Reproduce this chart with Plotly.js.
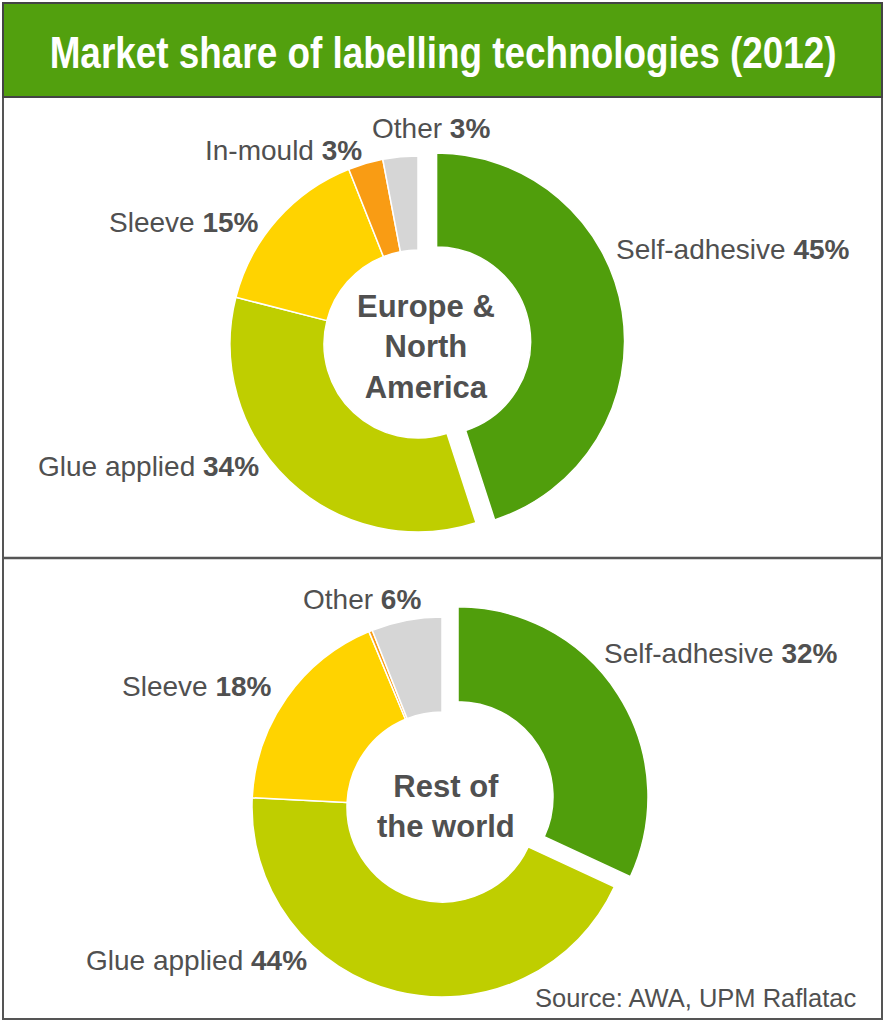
<!DOCTYPE html>
<html>
<head>
<meta charset="utf-8">
<script src="https://cdn.plot.ly/plotly-3.0.1.min.js"></script>
<style>html,body{margin:0;padding:0;background:#fff;}#chart{width:884px;height:1021px;}</style>
</head>
<body>
<div id="chart"></div>
<script>
// ---- data ----
const categories = ["Self-adhesive", "Glue applied", "Sleeve", "In-mould", "Other"];
const europeNA = [45, 34, 15, 3, 3];
const restOfWorld = [32, 44, 18, 0.3, 6];
const europeNALabels = ["45%", "34%", "15%", "3%", "3%"];
const restOfWorldLabels = ["32%", "44%", "18%", "", "6%"];
const chartTitle = "Market share of labelling technologies (2012)";
const centerTop = "Europe &<br>North<br>America";
const centerBottom = "Rest of<br>the world";
const source = "Source: AWA, UPM Raflatac";

// ---- style ----
const W = 884, H = 1021;
const colors = ["#509e0c", "#bfce00", "#ffd300", "#f99c14", "#d6d6d6"];
const px = x => x / W;
const py = y => 1 - y / H;
const FONT = "Liberation Sans";
const labelColor = "#505050";

function pie(values, cx, cy, r, pull) {
  const half = r * (1 + pull);
  return {
    type: "pie",
    values: values,
    labels: categories,
    sort: false,
    direction: "clockwise",
    rotation: 0,
    hole: 0.5,
    pull: [pull, 0, 0, 0, 0],
    textinfo: "none",
    hoverinfo: "label+percent",
    marker: {colors: colors, line: {color: "#ffffff", width: 1.5}},
    domain: {x: [px(cx - half), px(cx + half)], y: [py(cy + half), py(cy - half)]},
    showlegend: false
  };
}

const data = [
  pie(europeNA, 418, 344, 188, 0.1),
  pie(restOfWorld, 442, 807, 190, 0.1)
];

// label placements (pixel centres)
const topPos = [[733, 249], [148, 466], [184, 222], [283, 150], [431, 128]];
const botPos = [[721, 653], [196, 960], [197, 686], null, [362, 599]];

const annotations = [];
function addLabels(labels, pos) {
  categories.forEach((c, i) => {
    if (!pos[i] || !labels[i]) return;
    annotations.push({
      xref: "paper", yref: "paper", x: px(pos[i][0]), y: py(pos[i][1]),
      xanchor: "center", yanchor: "middle", showarrow: false,
      text: c + " <b>" + labels[i] + "</b>",
      font: {family: FONT, size: 28, color: labelColor}
    });
  });
}
addLabels(europeNALabels, topPos);
addLabels(restOfWorldLabels, botPos);

const titleIndex = annotations.length;
annotations.push({
  xref: "paper", yref: "paper", x: px(443), y: py(52), xanchor: "center", yanchor: "middle",
  showarrow: false, text: "<b>" + chartTitle + "</b>",
  font: {family: FONT, size: 45, color: "#ffffff"}
});
annotations.push({
  xref: "paper", yref: "paper", x: px(426), y: py(347), xanchor: "center", yanchor: "middle",
  showarrow: false, text: "<b>" + centerTop + "</b>",
  font: {family: FONT, size: 31, color: labelColor}
});
annotations.push({
  xref: "paper", yref: "paper", x: px(446), y: py(806), xanchor: "center", yanchor: "middle",
  showarrow: false, text: "<b>" + centerBottom + "</b>",
  font: {family: FONT, size: 31, color: labelColor}
});
annotations.push({
  xref: "paper", yref: "paper", x: px(858), y: py(998), xanchor: "right", yanchor: "middle",
  showarrow: false, text: source,
  font: {family: FONT, size: 25.5, color: labelColor}
});

const shapes = [
  {type: "rect", xref: "paper", yref: "paper", x0: px(3), x1: px(882), y0: py(1019), y1: py(3),
   line: {color: "#555555", width: 2}, fillcolor: "rgba(0,0,0,0)", layer: "below"},
  {type: "rect", xref: "paper", yref: "paper", x0: px(3), x1: px(882), y0: py(97), y1: py(3),
   line: {color: "#444444", width: 2}, fillcolor: "#52a00e", layer: "below"},
  {type: "line", xref: "paper", yref: "paper", x0: px(3), x1: px(882), y0: py(558), y1: py(558),
   line: {color: "#555555", width: 2.5}}
];

const layout = {
  width: W, height: H,
  margin: {l: 0, r: 0, t: 0, b: 0},
  paper_bgcolor: "#ffffff",
  showlegend: false,
  annotations: annotations,
  shapes: shapes
};

Plotly.newPlot("chart", data, layout, {displayModeBar: false, staticPlot: true}).then(gd => {
  // condense the title horizontally, like the narrow typeface of the original
  const anns = gd.querySelectorAll(".annotation");
  const t = anns[titleIndex] && anns[titleIndex].querySelector("text.annotation-text");
  if (t) {
    t.style.transformBox = "fill-box";
    t.style.transformOrigin = "center";
    t.style.transform = "scaleX(0.82)";
  }
});
</script>
</body>
</html>
